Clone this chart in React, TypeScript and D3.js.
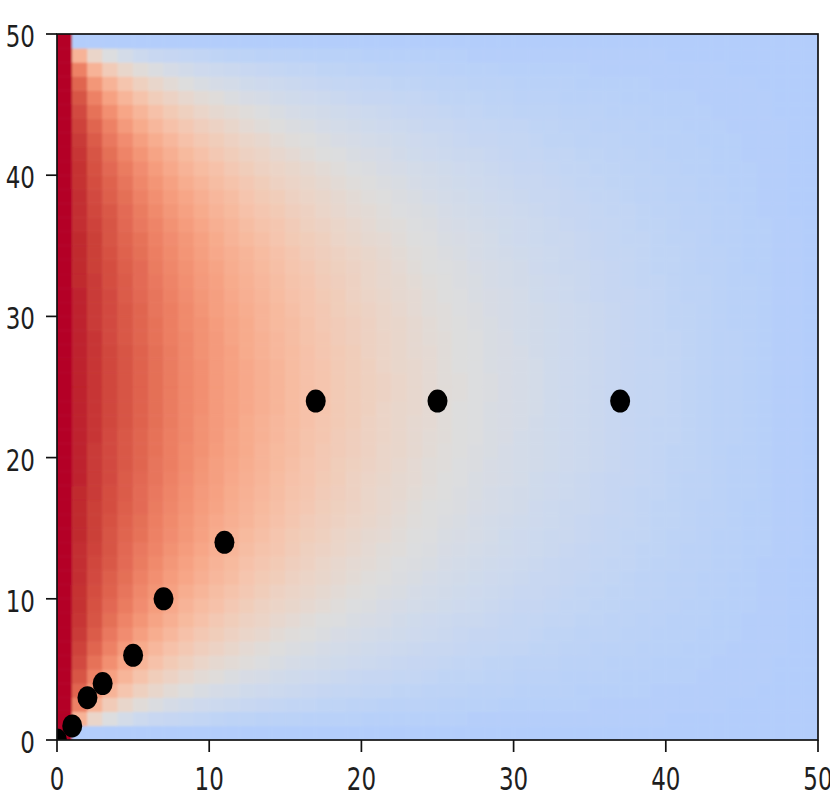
import React from 'react';
import * as d3 from 'd3';

// Heat values in percent, one string per row of 50 cells (x = 0..49).
// Listed from the bottom row (y 0-1) up to the top row (y 49-50).
const HEAT_ROWS = [
  "100 00 00 00 00 00 00 00 00 00 00 00 00 00 00 00 00 00 00 00 00 00 00 00 00 00 00 00 00 00 00 00 00 00 00 00 00 00 00 00 00 00 00 00 00 00 00 00 00 00",
  "100 50 30 21 16 12 10 09 08 07 06 05 05 04 04 04 03 03 03 03 02 02 02 02 02 02 02 01 01 01 01 01 01 01 01 01 01 01 01 01 00 00 00 00 00 00 00 00 00 00",
  "100 70 50 37 29 24 20 17 15 13 12 11 10 09 08 07 07 06 06 05 05 04 04 04 04 03 03 03 03 02 02 02 02 02 02 01 01 01 01 01 01 01 01 01 00 00 00 00 00 00",
  "100 79 62 50 41 34 29 25 22 19 17 16 14 13 12 11 10 09 08 08 07 07 06 06 05 05 05 04 04 04 03 03 03 03 02 02 02 02 02 01 01 01 01 01 01 01 00 00 00 00",
  "100 84 70 58 49 42 36 32 28 25 23 20 18 17 15 14 13 12 11 10 09 09 08 08 07 06 06 06 05 05 04 04 04 03 03 03 03 02 02 02 02 02 01 01 01 01 01 00 00 00",
  "100 87 75 65 56 49 43 38 34 30 27 25 23 21 19 17 16 15 14 13 12 11 10 09 09 08 07 07 06 06 05 05 05 04 04 04 03 03 03 02 02 02 02 01 01 01 01 00 00 00",
  "100 89 79 70 61 54 48 43 39 35 32 29 26 24 22 20 19 17 16 15 14 13 12 11 10 10 09 08 08 07 07 06 06 05 05 04 04 04 03 03 03 02 02 02 01 01 01 01 00 00",
  "100 91 82 73 66 59 53 48 43 39 36 33 30 28 25 23 22 20 18 17 16 15 14 13 12 11 10 09 09 08 08 07 06 06 05 05 05 04 04 03 03 03 02 02 02 01 01 01 00 00",
  "100 92 84 76 69 63 57 52 47 43 39 36 33 31 28 26 24 22 21 19 18 17 15 14 13 12 11 11 10 09 08 08 07 07 06 06 05 05 04 04 03 03 03 02 02 01 01 01 00 00",
  "100 93 85 78 72 66 60 55 50 46 43 39 36 33 31 29 27 25 23 21 20 18 17 16 15 14 13 12 11 10 09 09 08 07 07 06 06 05 05 04 04 03 03 02 02 02 01 01 00 00",
  "100 93 86 80 74 68 63 58 53 49 45 42 39 36 33 31 29 27 25 23 22 20 19 17 16 15 14 13 12 11 10 10 09 08 07 07 06 06 05 05 04 04 03 03 02 02 01 01 00 00",
  "100 94 87 81 76 70 65 60 56 52 48 45 41 38 36 33 31 29 27 25 23 22 20 19 17 16 15 14 13 12 11 10 10 09 08 07 07 06 05 05 04 04 03 03 02 02 01 01 00 00",
  "100 94 88 83 77 72 67 62 58 54 50 47 43 40 38 35 33 30 28 26 25 23 21 20 19 17 16 15 14 13 12 11 10 09 09 08 07 07 06 05 05 04 04 03 03 02 01 01 00 00",
  "100 94 89 84 78 73 69 64 60 56 52 49 45 42 40 37 34 32 30 28 26 24 23 21 20 18 17 16 15 14 13 12 11 10 09 08 08 07 06 06 05 04 04 03 03 02 02 01 01 00",
  "100 95 90 84 79 75 70 66 62 58 54 50 47 44 41 38 36 34 31 29 27 26 24 22 21 19 18 17 16 14 13 12 11 11 10 09 08 07 07 06 05 05 04 03 03 02 02 01 01 00",
  "100 95 90 85 80 76 71 67 63 59 55 52 49 46 43 40 37 35 33 31 29 27 25 23 22 20 19 17 16 15 14 13 12 11 10 09 08 08 07 06 06 05 04 04 03 02 02 01 01 00",
  "100 95 90 86 81 77 72 68 64 60 57 53 50 47 44 41 39 36 34 32 30 28 26 24 22 21 20 18 17 16 15 13 12 11 11 10 09 08 07 06 06 05 04 04 03 02 02 01 01 00",
  "100 95 91 86 82 77 73 69 65 61 58 54 51 48 45 42 40 37 35 33 30 28 27 25 23 22 20 19 17 16 15 14 13 12 11 10 09 08 07 07 06 05 05 04 03 03 02 01 01 00",
  "100 96 91 87 82 78 74 70 66 62 59 55 52 49 46 43 41 38 36 33 31 29 27 26 24 22 21 19 18 17 16 14 13 12 11 10 09 09 08 07 06 05 05 04 03 03 02 01 01 00",
  "100 96 91 87 83 79 74 71 67 63 59 56 53 50 47 44 41 39 36 34 32 30 28 26 24 23 21 20 18 17 16 15 14 13 12 11 10 09 08 07 06 06 05 04 03 03 02 01 01 00",
  "100 96 91 87 83 79 75 71 67 64 60 57 54 50 47 45 42 39 37 35 33 30 29 27 25 23 22 20 19 17 16 15 14 13 12 11 10 09 08 07 06 06 05 04 03 03 02 01 01 00",
  "100 96 92 87 83 79 75 71 68 64 61 57 54 51 48 45 42 40 37 35 33 31 29 27 25 24 22 21 19 18 16 15 14 13 12 11 10 09 08 07 07 06 05 04 04 03 02 01 01 00",
  "100 96 92 88 84 80 76 72 68 64 61 58 54 51 48 46 43 40 38 36 33 31 29 27 26 24 22 21 19 18 17 15 14 13 12 11 10 09 08 07 07 06 05 04 04 03 02 01 01 00",
  "100 96 92 88 84 80 76 72 68 65 61 58 55 52 49 46 43 41 38 36 34 31 29 28 26 24 22 21 19 18 17 16 14 13 12 11 10 09 08 08 07 06 05 04 04 03 02 01 01 00",
  "100 96 92 88 84 80 76 72 68 65 61 58 55 52 49 46 43 41 38 36 34 32 30 28 26 24 23 21 20 18 17 16 14 13 12 11 10 09 08 08 07 06 05 04 04 03 02 01 01 00",
  "100 96 92 88 84 80 76 72 68 65 61 58 55 52 49 46 43 41 38 36 34 32 30 28 26 24 23 21 20 18 17 16 14 13 12 11 10 09 08 08 07 06 05 04 04 03 02 01 01 00",
  "100 96 92 88 84 80 76 72 68 65 61 58 55 52 49 46 43 41 38 36 34 31 29 28 26 24 22 21 19 18 17 16 14 13 12 11 10 09 08 08 07 06 05 04 04 03 02 01 01 00",
  "100 96 92 88 84 80 76 72 68 64 61 58 54 51 48 46 43 40 38 36 33 31 29 27 26 24 22 21 19 18 17 15 14 13 12 11 10 09 08 07 07 06 05 04 04 03 02 01 01 00",
  "100 96 92 87 83 79 75 71 68 64 61 57 54 51 48 45 42 40 37 35 33 31 29 27 25 24 22 21 19 18 16 15 14 13 12 11 10 09 08 07 07 06 05 04 04 03 02 01 01 00",
  "100 96 91 87 83 79 75 71 67 64 60 57 54 50 47 45 42 39 37 35 33 30 29 27 25 23 22 20 19 17 16 15 14 13 12 11 10 09 08 07 06 06 05 04 03 03 02 01 01 00",
  "100 96 91 87 83 79 74 71 67 63 59 56 53 50 47 44 41 39 36 34 32 30 28 26 24 23 21 20 18 17 16 15 14 13 12 11 10 09 08 07 06 06 05 04 03 03 02 01 01 00",
  "100 96 91 87 82 78 74 70 66 62 59 55 52 49 46 43 41 38 36 33 31 29 27 26 24 22 21 19 18 17 16 14 13 12 11 10 09 09 08 07 06 05 05 04 03 03 02 01 01 00",
  "100 95 91 86 82 77 73 69 65 61 58 54 51 48 45 42 40 37 35 33 30 28 27 25 23 22 20 19 17 16 15 14 13 12 11 10 09 08 07 07 06 05 05 04 03 03 02 01 01 00",
  "100 95 90 86 81 77 72 68 64 60 57 53 50 47 44 41 39 36 34 32 30 28 26 24 22 21 20 18 17 16 15 13 12 11 11 10 09 08 07 06 06 05 04 04 03 02 02 01 01 00",
  "100 95 90 85 80 76 71 67 63 59 55 52 49 46 43 40 37 35 33 31 29 27 25 23 22 20 19 17 16 15 14 13 12 11 10 09 08 08 07 06 06 05 04 04 03 02 02 01 01 00",
  "100 95 90 84 79 75 70 66 62 58 54 50 47 44 41 38 36 34 31 29 27 26 24 22 21 19 18 17 16 14 13 12 11 11 10 09 08 07 07 06 05 05 04 03 03 02 02 01 01 00",
  "100 94 89 84 78 73 69 64 60 56 52 49 45 42 40 37 34 32 30 28 26 24 23 21 20 18 17 16 15 14 13 12 11 10 09 08 08 07 06 06 05 04 04 03 03 02 02 01 01 00",
  "100 94 88 83 77 72 67 62 58 54 50 47 43 40 38 35 33 30 28 26 25 23 21 20 19 17 16 15 14 13 12 11 10 09 09 08 07 07 06 05 05 04 04 03 03 02 01 01 00 00",
  "100 94 87 81 76 70 65 60 56 52 48 45 41 38 36 33 31 29 27 25 23 22 20 19 17 16 15 14 13 12 11 10 10 09 08 07 07 06 05 05 04 04 03 03 02 02 01 01 00 00",
  "100 93 86 80 74 68 63 58 53 49 45 42 39 36 33 31 29 27 25 23 22 20 19 17 16 15 14 13 12 11 10 10 09 08 07 07 06 06 05 05 04 04 03 03 02 02 01 01 00 00",
  "100 93 85 78 72 66 60 55 50 46 43 39 36 33 31 29 27 25 23 21 20 18 17 16 15 14 13 12 11 10 09 09 08 07 07 06 06 05 05 04 04 03 03 02 02 02 01 01 00 00",
  "100 92 84 76 69 63 57 52 47 43 39 36 33 31 28 26 24 22 21 19 18 17 15 14 13 12 11 11 10 09 08 08 07 07 06 06 05 05 04 04 03 03 03 02 02 01 01 01 00 00",
  "100 91 82 73 66 59 53 48 43 39 36 33 30 28 25 23 22 20 18 17 16 15 14 13 12 11 10 09 09 08 08 07 06 06 05 05 05 04 04 03 03 03 02 02 02 01 01 01 00 00",
  "100 89 79 70 61 54 48 43 39 35 32 29 26 24 22 20 19 17 16 15 14 13 12 11 10 10 09 08 08 07 07 06 06 05 05 04 04 04 03 03 03 02 02 02 01 01 01 01 00 00",
  "100 87 75 65 56 49 43 38 34 30 27 25 23 21 19 17 16 15 14 13 12 11 10 09 09 08 07 07 06 06 05 05 05 04 04 04 03 03 03 02 02 02 02 01 01 01 01 00 00 00",
  "100 84 70 58 49 42 36 32 28 25 23 20 18 17 15 14 13 12 11 10 09 09 08 08 07 06 06 06 05 05 04 04 04 03 03 03 03 02 02 02 02 02 01 01 01 01 01 00 00 00",
  "100 79 62 50 41 34 29 25 22 19 17 16 14 13 12 11 10 09 08 08 07 07 06 06 05 05 05 04 04 04 03 03 03 03 02 02 02 02 02 01 01 01 01 01 01 01 00 00 00 00",
  "100 70 50 37 29 24 20 17 15 13 12 11 10 09 08 07 07 06 06 05 05 04 04 04 04 03 03 03 03 02 02 02 02 02 02 01 01 01 01 01 01 01 01 01 00 00 00 00 00 00",
  "100 50 30 21 16 12 10 09 08 07 06 05 05 04 04 04 03 03 03 03 02 02 02 02 02 02 02 01 01 01 01 01 01 01 01 01 01 01 01 01 00 00 00 00 00 00 00 00 00 00",
  "100 00 00 00 00 00 00 00 00 00 00 00 00 00 00 00 00 00 00 00 00 00 00 00 00 00 00 00 00 00 00 00 00 00 00 00 00 00 00 00 00 00 00 00 00 00 00 00 00 00",
];

// Marker positions
const DOT_X = [0, 1, 2, 3, 5, 7, 11, 17, 25, 37];
const DOT_Y = [0, 1, 3, 4, 6, 10, 14, 24, 24, 24];

const X_TICKS = [0, 10, 20, 30, 40, 50];
const Y_TICKS = [0, 10, 20, 30, 40, 50];

// coolwarm colour map stops
const COOLWARM = [
  "#3b4cc0", "#445acc", "#4d68d7", "#5775e1", "#6282ea", "#6c8ef1", "#779af7", "#82a5fb",
  "#8db0fe", "#98b9ff", "#a3c2ff", "#aec9fd", "#b8d0f9", "#c2d5f4", "#ccd9ee", "#d5dbe6",
  "#dddddd", "#e5d8d1", "#ecd3c5", "#f1ccb9", "#f5c4ad", "#f7bba0", "#f7b194", "#f7a687",
  "#f49a7b", "#f18d6f", "#ec7f63", "#e57058", "#de604d", "#d55042", "#cb3e38", "#c0282f",
  "#b40426",
];
const VMIN = -56.25;
const VMAX = 100;

const W = 830;
const H = 812;
const LEFT = 57, RIGHT = 818, TOP = 34, BOTTOM = 740;

export default function App() {
  const x = d3.scaleLinear().domain([0, 50]).range([LEFT, RIGHT]);
  const y = d3.scaleLinear().domain([0, 50]).range([BOTTOM, TOP]);
  const norm = d3.scaleLinear().domain([VMIN, VMAX]).range([0, 1]).clamp(true);
  const cmap = d3.scaleLinear<string>()
    .domain(COOLWARM.map((_, i) => i / (COOLWARM.length - 1)))
    .range(COOLWARM)
    .interpolate(d3.interpolateRgb);

  const cells: { c: number; r: number; v: number }[] = [];
  HEAT_ROWS.forEach((row, r) => {
    row.trim().split(/\s+/).forEach((s, c) => cells.push({ c, r, v: Number(s) }));
  });
  const nRows = HEAT_ROWS.length;
  const nCols = 50;
  const pad = 5;

  const fs = 23;
  const half = 0.729 * fs / 2;

  return (
    <svg width={W} height={H} style={{ position: 'absolute', left: 0, top: 0 }}>
      <defs>
        <clipPath id="plotclip">
          <rect x={LEFT} y={TOP} width={RIGHT - LEFT} height={BOTTOM - TOP} />
        </clipPath>
        <filter id="soft" x="-2%" y="-2%" width="104%" height="104%">
          <feGaussianBlur stdDeviation={0.9} />
        </filter>
      </defs>
      <rect x={0} y={0} width={W} height={H} fill="#ffffff" />
      <g clipPath="url(#plotclip)">
        <g filter="url(#soft)">
          {cells.map(({ c, r, v }) => {
            const col = cmap(norm(v));
            let x0 = x(c), x1 = x(c + 1), y0 = y(r + 1), y1 = y(r);
            if (c === 0) x0 -= pad;
            if (c === nCols - 1) x1 += pad;
            if (r === 0) y1 += pad;
            if (r === nRows - 1) y0 -= pad;
            return (
              <rect key={`${r}-${c}`} x={x0} y={y0} width={x1 - x0} height={y1 - y0}
                fill={col} stroke={col} strokeWidth={0.6} />
            );
          })}
        </g>
        {DOT_X.map((dx, i) => (
          <ellipse key={i} cx={x(dx)} cy={y(DOT_Y[i])} rx={10} ry={11.5} fill="#000" />
        ))}
      </g>
      <rect x={LEFT} y={TOP} width={RIGHT - LEFT} height={BOTTOM - TOP} fill="none" stroke="#111" strokeWidth={1.7} />
      {X_TICKS.map((t) => (
        <g key={`xt${t}`}>
          <line x1={x(t)} x2={x(t)} y1={BOTTOM} y2={BOTTOM + 12} stroke="#111" strokeWidth={1.7} />
          <text transform={`translate(${x(t)},${779}) scale(1,1.35)`} y={half} textAnchor="middle"
            fontFamily="DejaVu Sans" fontSize={fs} fill="#1e1e1e">{t}</text>
        </g>
      ))}
      {Y_TICKS.map((t) => (
        <g key={`yt${t}`}>
          <line x1={LEFT - 11} x2={LEFT} y1={y(t)} y2={y(t)} stroke="#111" strokeWidth={1.7} />
          <text transform={`translate(${35},${y(t) + 2}) scale(1,1.3)`} y={half} textAnchor="end"
            fontFamily="DejaVu Sans" fontSize={fs} fill="#1e1e1e">{t}</text>
        </g>
      ))}
    </svg>
  );
}
